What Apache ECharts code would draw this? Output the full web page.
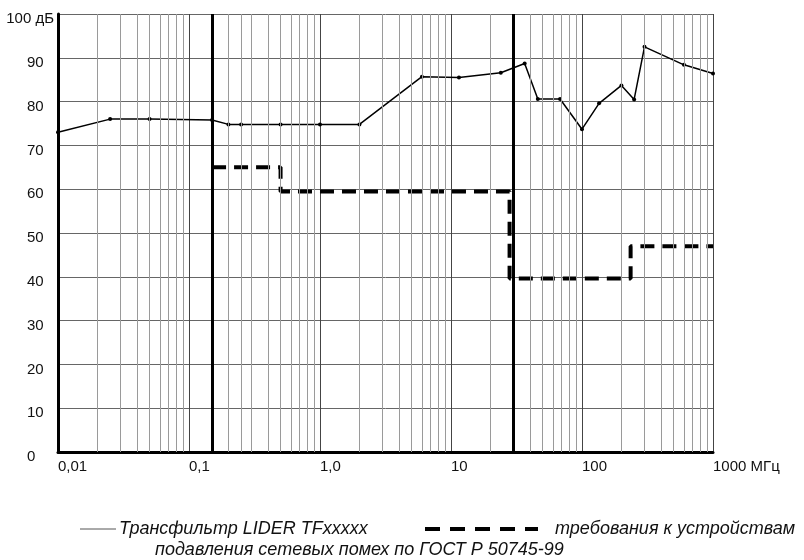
<!DOCTYPE html>
<html>
<head>
<meta charset="utf-8">
<script src="https://cdn.jsdelivr.net/npm/echarts@6/dist/echarts.min.js"></script>
<style>
  html, body { margin: 0; padding: 0; background: #fff; }
  #chart { width: 804px; height: 560px; }
</style>
</head>
<body>
<div id="chart"></div>
<script>
// частоты, МГц
const filterFreq = [0.01, 0.025, 0.05, 0.15, 0.2, 0.25, 0.5, 1.0, 2.0, 6, 11.5, 24, 36.5, 46, 68, 100, 135, 200, 250, 300, 600, 1000];
// затухание фильтра, дБ
const filterDb = [73, 76, 76, 75.8, 74.8, 74.8, 74.8, 74.8, 74.8, 85.7, 85.5, 86.6, 88.7, 80.6, 80.6, 73.7, 79.6, 83.7, 80.5, 92.5, 88.4, 86.4];
// требования ГОСТ Р 50745-99 (ступеньки)
const limitFreq = [0.15, 0.5, 0.5, 28, 28, 235, 235, 1000];
const limitDb = [65, 65, 59.5, 59.5, 39.6, 39.6, 47, 47];
// границы диапазона
const bandEdges = [0.15, 30];
// подписи осей
const xTickLabels = ['0,01', '0,1', '1,0', '10', '100', '1000 МГц'];
const decades = [0.01, 0.1, 1, 10, 100];
const minorSteps = [2, 3, 4, 5, 6, 7, 8, 9];
const extraMinor = [0.25];

const minorLines = [];
decades.forEach(d => minorSteps.forEach(k => minorLines.push(+(d * k).toPrecision(3))));
extraMinor.forEach(v => minorLines.push(v));

const font = "'Liberation Sans', Arial, sans-serif";

let myChart = echarts.init(document.getElementById('chart'));
let option = {
  backgroundColor: '#fff',
  animation: false,
  grid: { left: 58, right: 91, top: 14, bottom: 108 },
  xAxis: {
    type: 'log',
    logBase: 10,
    min: 0.01,
    max: 1000,
    axisLine: { show: true, onZero: false, lineStyle: { color: '#000', width: 3 } },
    axisTick: { show: false },
    splitLine: { show: true, lineStyle: { color: '#444', width: 1 } },
    axisLabel: {
      align: 'left',
      margin: 7,
      fontFamily: font,
      fontSize: 15,
      color: '#111',
      formatter: function (v) {
        return xTickLabels[Math.round(Math.log10(v)) + 2];
      }
    }
  },
  yAxis: {
    type: 'value',
    min: 0,
    max: 100,
    interval: 10,
    axisLine: { show: true, lineStyle: { color: '#000', width: 3 } },
    axisTick: { show: false },
    splitLine: { show: true, lineStyle: { color: '#666', width: 1 } },
    axisLabel: {
      align: 'right',
      margin: 4,
      verticalAlign: 'middle',
      padding: [10, 0, 0, 0],
      fontFamily: font,
      fontSize: 15,
      color: '#111',
      formatter: function (v) {
        return v === 100 ? '{t|100 дБ}' : '{n|' + v + '}';
      },
      rich: {
        n: { width: 27, align: 'left', fontFamily: font, fontSize: 15, color: '#111' },
        t: { fontFamily: font, fontSize: 15, color: '#111' }
      }
    }
  },
  series: [
    {
      name: 'grid',
      type: 'line',
      data: [],
      z: 1,
      silent: true,
      markLine: {
        silent: true,
        symbol: 'none',
        label: { show: false },
        lineStyle: { color: '#9a9a9a', width: 1, type: 'solid' },
        data: minorLines.map(v => ({ xAxis: v }))
      }
    },
    {
      name: 'требования к устройствам',
      type: 'line',
      z: 3,
      data: limitFreq.map((f, i) => [f, limitDb[i]]),
      showSymbol: false,
      lineStyle: { color: '#000', width: 4, type: [14, 8] }
    },
    {
      name: 'Трансфильтр LIDER TFxxxxx',
      type: 'line',
      z: 4,
      data: filterFreq.map((f, i) => [f, filterDb[i]]),
      symbol: 'circle',
      symbolSize: 4,
      itemStyle: { color: '#000' },
      lineStyle: { color: '#000', width: 1.5 }
    },
    {
      name: 'edges',
      type: 'line',
      data: [],
      z: 5,
      silent: true,
      markLine: {
        silent: true,
        symbol: 'none',
        label: { show: false },
        lineStyle: { color: '#000', width: 3, type: 'solid' },
        data: bandEdges.map(v => ({ xAxis: v }))
      }
    }
  ],
  graphic: [
    { type: 'line', shape: { x1: 80, y1: 529, x2: 116, y2: 529 }, style: { stroke: '#555', lineWidth: 1 } },
    { type: 'text', x: 119, y: 529, style: { text: 'Трансфильтр LIDER TFxxxxx', font: 'italic 18px ' + font, fill: '#111', verticalAlign: 'middle' } },
    { type: 'line', shape: { x1: 425, y1: 529, x2: 538, y2: 529 }, style: { stroke: '#000', lineWidth: 4, lineDash: [15, 10] } },
    { type: 'text', x: 555, y: 529, style: { text: 'требования к устройствам', font: 'italic 18px ' + font, fill: '#111', verticalAlign: 'middle' } },
    { type: 'text', x: 155, y: 550, style: { text: 'подавления сетевых помех по ГОСТ Р 50745-99', font: 'italic 18px ' + font, fill: '#111', verticalAlign: 'middle' } }
  ]
};
myChart.setOption(option);
</script>
</body>
</html>
